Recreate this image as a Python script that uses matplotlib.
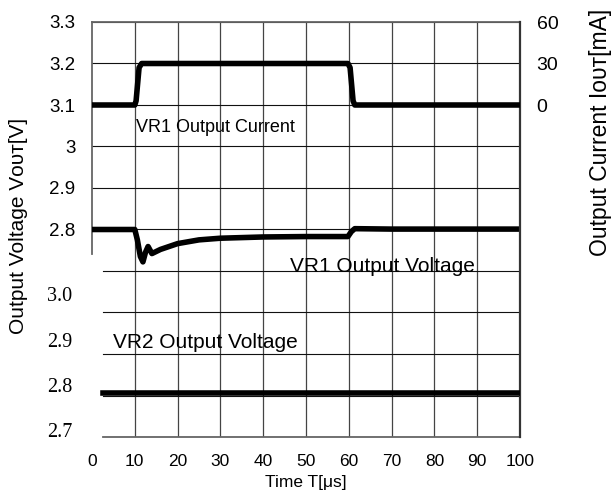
import matplotlib
matplotlib.use("Agg")
import matplotlib.pyplot as plt
import numpy as np

plt.rcParams['font.family'] = ['Liberation Sans', 'DejaVu Sans']

# time axis [us]
time_ticks = [0, 10, 20, 30, 40, 50, 60, 70, 80, 90, 100]

# VR1 output current [mA]
t_cur = [0, 10.0, 10.3, 11.0, 11.6, 59.8, 60.3, 61.0, 61.4, 100]
i_cur = [0, 0, 3, 27, 30, 30, 27, 3, 0, 0]

# VR1 output voltage [V]
t_vr1 = [0, 10.0, 10.6, 11.3, 11.9, 12.5, 13.1, 14.0, 16, 20, 25, 30, 40, 50, 59.8, 60.6, 61.4, 70, 100]
v_vr1 = [2.800, 2.800, 2.775, 2.735, 2.722, 2.745, 2.759, 2.742, 2.752, 2.766, 2.775, 2.779,
         2.782, 2.783, 2.783, 2.795, 2.802, 2.801, 2.801]

# VR2 output voltage [V]
t_vr2 = [2.6, 100]
v_vr2 = [2.781, 2.781]

# tick labels
upper_ticks = [2.8, 2.9, 3.0, 3.1, 3.2, 3.3]
upper_labels = ["2.8", "2.9", "3", "3.1", "3.2", "3.3"]
lower_ticks = [2.7, 2.8, 2.9, 3.0]
lower_labels = ["2.7", "2.8", "2.9", "3.0"]
cur_ticks = [0, 30, 60]

fig = plt.figure(figsize=(6.12, 4.95), dpi=100)
rect = [92 / 612, 1 - 437 / 495, 428 / 612, 415 / 495]

# upper voltage axes (VR1), also carries the grid
ax = fig.add_axes(rect)
ax.set_xlim(0, 100)
ax.set_ylim(2.3, 3.3)
ax.set_xticks(time_ticks)
ax.set_xticklabels([str(t) for t in time_ticks], fontsize=12.5)
ax.set_yticks(upper_ticks)
ax.set_yticklabels(upper_labels, fontsize=13.5)
ax.tick_params(axis='both', length=0)
ax.tick_params(axis='x', pad=12)
ax.tick_params(axis='y', pad=12)
for t in time_ticks[1:-1]:
    ax.axvline(t, color='#444444', lw=0.9, zorder=0.5)
for row in np.arange(2.3, 3.31, 0.1):
    xmin = 0 if row > 2.75 else 11 / 428
    ax.axhline(row, xmin=xmin, color='#111111', lw=0.8, zorder=0.5)
for side in ['top', 'right', 'left', 'bottom']:
    ax.spines[side].set_color('#666666')
    ax.spines[side].set_linewidth(1.3)
ax.spines['left'].set_bounds(2.741, 3.3)
ax.spines['bottom'].set_bounds(2.6, 100)
ax.plot(t_vr1, v_vr1, color='black', lw=4.0, solid_joinstyle='round', zorder=3)

# current axes (right)
ax2 = ax.twinx()
ax2.set_ylim(-240, 60)
ax2.set_yticks(cur_ticks)
ax2.set_yticklabels([str(c) for c in cur_ticks], fontsize=14)
ax2.tick_params(axis='y', length=0, pad=12)
ax2.spines['right'].set_color('#333333')
ax2.spines['right'].set_linewidth(1.6)
for side in ['top', 'left', 'bottom']:
    ax2.spines[side].set_visible(False)
ax2.plot(t_cur, i_cur, color='black', lw=4.0, solid_joinstyle='round', zorder=3)

# lower voltage axes (VR2)
ax3 = fig.add_axes(rect, frameon=False)
ax3.set_xlim(0, 100)
ax3.set_ylim(2.6845, 3.602)
ax3.set_xticks([])
ax3.set_yticks(lower_ticks)
ax3.set_yticklabels(lower_labels, fontsize=14.5, family='Liberation Serif')
ax3.tick_params(axis='y', length=0, pad=14)
ax3.plot(t_vr2, v_vr2, color='black', lw=4.0, zorder=3)

# annotations
ax.text(10.3, 3.045, "VR1 Output Current", fontsize=13, va='center', ha='left')
ax.text(46.3, 2.71, "VR1 Output Voltage", fontsize=15, va='center', ha='left')
ax3.text(4.9, 2.894, "VR2 Output Voltage", fontsize=15, va='center', ha='left')

# axis titles
fig.text(19 / 612, 1 - 226 / 495, "Output Voltage V\u1d0f\u1d1c\u1d1b[V]", rotation=90,
         fontsize=15, ha='center', va='center')
fig.text(600 / 612, 1 - 9 / 495, "Output Current I\u1d0f\u1d1c\u1d1b[mA]", rotation=90,
         fontsize=16.5, ha='center', va='top')
fig.text(306 / 612, 1 - 482 / 495, "Time T[\u03bcs]", fontsize=12.5, ha='center', va='center')

plt.savefig("out.png", dpi=100)
